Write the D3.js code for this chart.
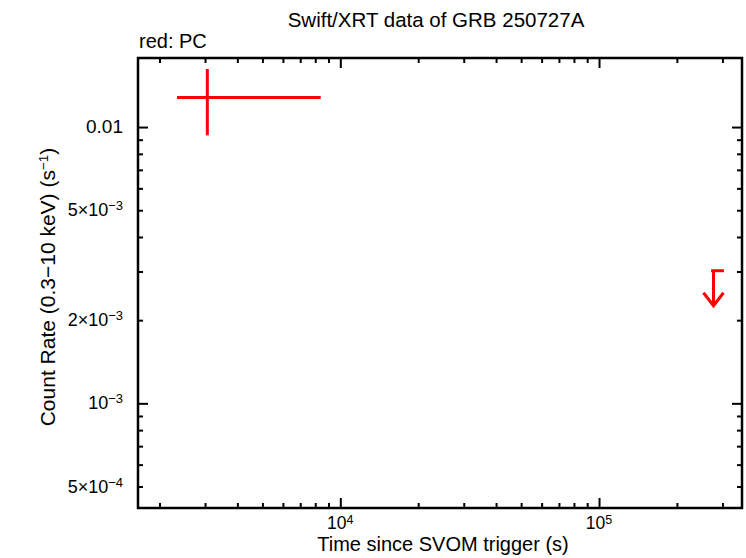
<!DOCTYPE html>
<html>
<head>
<meta charset="UTF-8">
<style>
    body { margin: 0; background: white; }
    text { font-family: "Liberation Sans", Arial, Helvetica, sans-serif; fill: black; }
    .tick line { stroke: black; stroke-width: 2px; }
</style>
</head>
<body>
<svg id="chart"></svg>
<script src="https://d3js.org/d3.v7.min.js"></script>
<script>

    let width = 746, height = 558;

    // PC mode detection
    const pcTime = [3062];
    const pcTimeLo = [2338];
    const pcTimeHi = [8399];
    const pcRate = [0.0128];
    const pcRateLo = [0.00933];
    const pcRateHi = [0.01622];

    // PC upper limit
    const ulTime = [277000];
    const ulTimeLo = [273500];
    const ulTimeHi = [304000];
    const ulRate = [0.00302];

    // axis ticks
    const xMajor = [1e4, 1e5];
    const xMinor = [2e3, 3e3, 4e3, 5e3, 6e3, 7e3, 8e3, 9e3,
        2e4, 3e4, 4e4, 5e4, 6e4, 7e4, 8e4, 9e4, 2e5, 3e5];
    const xLabelValues = [1e4, 1e5];
    const xLabelMantissa = ["10", "10"];
    const xLabelExp = ["4", "5"];

    const yMajor = [1e-3, 1e-2];
    const yMinor = [5e-4, 6e-4, 7e-4, 8e-4, 9e-4,
        2e-3, 3e-3, 4e-3, 5e-3, 6e-3, 7e-3, 8e-3, 9e-3];
    const yLabelValues = [0.01, 5e-3, 2e-3, 1e-3, 5e-4];
    const yLabelMantissa = ["0.01", "5×10", "2×10", "10", "5×10"];
    const yLabelExp = ["", "−3", "−3", "−3", "−4"];

    let margin = { top: 58, right: 4, bottom: 50, left: 138 };

    let svg = d3.select("#chart")
        .attr("width", width)
        .attr("height", height);

    let x = d3.scaleLog()
        .domain([1652, 357000])
        .range([margin.left, width - margin.right]);

    let y = d3.scaleLog()
        .domain([4.18e-4, 0.01778])
        .range([height - margin.bottom, margin.top]);

    let x0 = x.range()[0], x1 = x.range()[1];
    let y0 = y.range()[0], y1 = y.range()[1];

    // ticks on all four sides, pointing inwards
    function tickAxis(axisFn, scale, values, size, transform) {
        let g = svg.append("g")
            .attr("transform", transform)
            .call(axisFn(scale).tickValues(values).tickSize(size).tickFormat(""));
        g.select(".domain").remove();
    }

    tickAxis(d3.axisBottom, x, xMajor, -10, "translate(0," + y0 + ")");
    tickAxis(d3.axisBottom, x, xMinor, -5, "translate(0," + y0 + ")");
    tickAxis(d3.axisTop, x, xMajor, -10, "translate(0," + y1 + ")");
    tickAxis(d3.axisTop, x, xMinor, -5, "translate(0," + y1 + ")");
    tickAxis(d3.axisLeft, y, yMajor, -10, "translate(" + x0 + ",0)");
    tickAxis(d3.axisLeft, y, yMinor, -5, "translate(" + x0 + ",0)");
    tickAxis(d3.axisRight, y, yMajor, -10, "translate(" + x1 + ",0)");
    tickAxis(d3.axisRight, y, yMinor, -5, "translate(" + x1 + ",0)");

    // frame
    svg.append("rect")
        .attr("x", x0)
        .attr("y", y1)
        .attr("width", x1 - x0)
        .attr("height", y0 - y1)
        .attr("fill", "none")
        .attr("stroke", "black")
        .attr("stroke-width", 2.5);

    // x tick labels
    xLabelValues.forEach(function (v, i) {
        let t = svg.append("text")
            .attr("x", x(v))
            .attr("y", y0 + 21)
            .attr("text-anchor", "middle")
            .style("font-size", "17.5px");
        t.append("tspan").text(xLabelMantissa[i]);
        t.append("tspan").attr("dy", -5).style("font-size", "12.5px").text(xLabelExp[i]);
    });

    // y tick labels
    yLabelValues.forEach(function (v, i) {
        let t = svg.append("text")
            .attr("x", x0 - 15)
            .attr("y", y(v) + 6)
            .attr("text-anchor", "end");
        if (yLabelExp[i] === "") {
            t.style("font-size", "19px").text(yLabelMantissa[i]);
        } else {
            t.style("font-size", "18px");
            t.append("tspan").text(yLabelMantissa[i]);
            t.append("tspan").attr("dy", -6).style("font-size", "13px").text(yLabelExp[i]);
        }
    });

    // titles
    svg.append("text")
        .attr("x", 436)
        .attr("y", 27)
        .attr("text-anchor", "middle")
        .style("font-size", "20.5px")
        .text("Swift/XRT data of GRB 250727A");

    svg.append("text")
        .attr("x", 139)
        .attr("y", 48)
        .style("font-size", "20px")
        .text("red: PC");

    svg.append("text")
        .attr("x", 443)
        .attr("y", 551)
        .attr("text-anchor", "middle")
        .style("font-size", "20px")
        .text("Time since SVOM trigger (s)");

    let yl = svg.append("text")
        .attr("transform", "translate(55," + 287 + ") rotate(-90)")
        .attr("text-anchor", "middle")
        .style("font-size", "21px");
    yl.append("tspan").text("Count Rate (0.3−10 keV) (s");
    yl.append("tspan").attr("dy", -7).style("font-size", "13.5px").text("−1");
    yl.append("tspan").attr("dy", 7).text(")");

    // data
    let red = "#ff0000";
    let pts = svg.append("g").attr("stroke", red).attr("stroke-width", 3).attr("fill", "none");

    pcTime.forEach(function (t, i) {
        pts.append("line")
            .attr("x1", x(pcTimeLo[i])).attr("x2", x(pcTimeHi[i]))
            .attr("y1", y(pcRate[i])).attr("y2", y(pcRate[i]));
        pts.append("line")
            .attr("x1", x(t)).attr("x2", x(t))
            .attr("y1", y(pcRateLo[i])).attr("y2", y(pcRateHi[i]));
    });

    // upper limits: bar at the limit and a downward arrow
    let arrowLen = 35, headW = 10, headH = 13;
    ulTime.forEach(function (t, i) {
        let yy = y(ulRate[i]), xx = x(t);
        pts.append("line")
            .attr("x1", x(ulTimeLo[i]) - 1).attr("x2", x(ulTimeHi[i]))
            .attr("y1", yy).attr("y2", yy);
        pts.append("line")
            .attr("x1", xx).attr("x2", xx)
            .attr("y1", yy).attr("y2", yy + arrowLen);
        pts.append("path")
            .attr("d", "M" + (xx - headW) + "," + (yy + arrowLen - headH) +
                "L" + xx + "," + (yy + arrowLen) +
                "L" + (xx + headW) + "," + (yy + arrowLen - headH));
    });

</script>
</body>
</html>
